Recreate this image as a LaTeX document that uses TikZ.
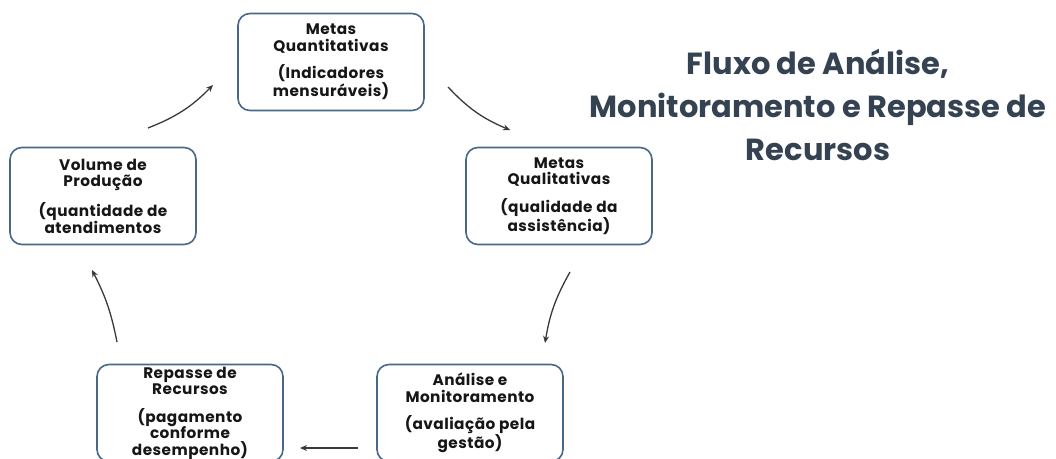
\documentclass[tikz,border=0pt]{standalone}
\usepackage{fontspec}
\setmainfont{Poppins}
\usetikzlibrary{arrows.meta}
\definecolor{boxline}{RGB}{72,104,138}
\definecolor{titlecol}{RGB}{52,66,82}
\definecolor{txtcol}{RGB}{22,22,22}
\definecolor{arrcol}{RGB}{58,58,58}

\begin{document}
\begin{tikzpicture}[x=1pt,y=-1pt,
  etapa/.style={draw=boxline,line width=1.6pt,rounded corners=12pt,fill=white,
    minimum width=186pt,minimum height=97pt,inner sep=0pt,align=center,
    text=txtcol,font=\bfseries\fontsize{15.3}{16.5}\selectfont\addfontfeature{LetterSpace=3}},
  seta/.style={draw=arrcol,line width=1.3pt,-{Stealth[length=7pt,width=6pt]}}]
\useasboundingbox (0,0) rectangle (1056,458);
% etapas do ciclo
\node[etapa] (quant) at (331,62) {Metas\\Quantitativas\\[11pt](Indicadores\\mensuráveis)};
\node[etapa] (qual) at (559,196) {Metas\\Qualitativas\\[11pt](qualidade da\\assistência)};
\node[etapa] (anal) at (470,413) {Análise e\\Monitoramento\\[11pt](avaliação pela\\gestão)};
\node[etapa] (rep) at (190,413) {Repasse de\\Recursos\\[11pt](pagamento\\conforme\\desempenho)};
\node[etapa] (vol) at (103,196) {Volume de\\Produção\\[11pt](quantidade de\\atendimentos};
% titulo
\node[text=titlecol,font=\bfseries\fontsize{30.5}{43}\selectfont,align=center] (titulo) at (818,105)
  {Fluxo de Análise,\\Monitoramento e Repasse de\\Recursos};
% pontas das setas
\coordinate (v1) at (148,128); \coordinate (q1) at (213,85);
\coordinate (q2) at (448,87);  \coordinate (l1) at (510,130);
\coordinate (l2) at (570,272); \coordinate (a1) at (545,343);
\coordinate (a2) at (358,448); \coordinate (r1) at (300,448);
\coordinate (r2) at (117,342); \coordinate (v2) at (92,270);
\draw[seta] (v1) to[bend right=12] (q1);
\draw[seta] (q2) to[bend right=12] (l1);
\draw[seta] (l2) to[bend right=10] (a1);
\draw[seta] (a2) -- (r1);
\draw[seta] (r2) to[bend right=8] (v2);
\end{tikzpicture}
\end{document}
